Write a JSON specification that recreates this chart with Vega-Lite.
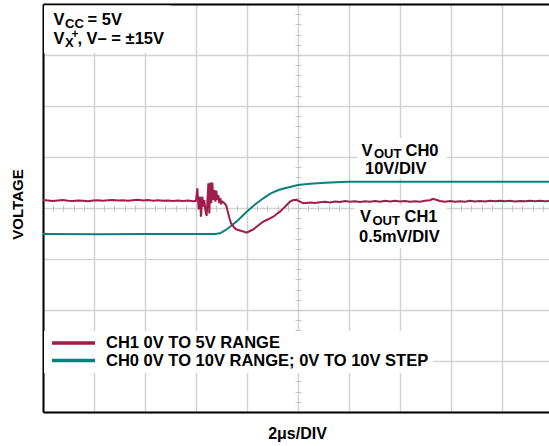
{
  "$schema": "https://vega.github.io/schema/vega-lite/v6.json",
  "width": 506,
  "height": 408,
  "autosize": {"type": "none"},
  "padding": {"left": 43, "top": 4, "right": 0, "bottom": 34},
  "background": "white",
  "config": {
    "view": {"stroke": null},
    "font": "Liberation Sans",
    "text": {"font": "Liberation Sans"}
  },
  "datasets": {
    "ch1": [
      {"t":0,"v":0.157},{"t":0.196,"v":0.147},{"t":0.392,"v":0.137},{"t":0.588,"v":0.147},{"t":0.784,"v":0.157},{"t":0.98,"v":0.141},{"t":1.176,"v":0.137},{"t":1.373,"v":0.147},{"t":1.569,"v":0.141},{"t":1.765,"v":0.133},{"t":1.961,"v":0.145},{"t":2.157,"v":0.153},{"t":2.353,"v":0.141},{"t":2.549,"v":0.151},{"t":2.745,"v":0.157},{"t":2.941,"v":0.145},{"t":3.137,"v":0.153},{"t":3.333,"v":0.143},{"t":3.529,"v":0.153},{"t":3.725,"v":0.161},{"t":3.922,"v":0.149},{"t":4.118,"v":0.155},{"t":4.314,"v":0.143},{"t":4.51,"v":0.151},{"t":4.706,"v":0.141},{"t":4.902,"v":0.149},{"t":5.098,"v":0.139},{"t":5.294,"v":0.147},{"t":5.49,"v":0.137},{"t":5.686,"v":0.145},{"t":5.882,"v":0.133},{"t":6.0,"v":0.141},
      {"t":6.052,"v":0.386},{"t":6.105,"v":-0.026},{"t":6.157,"v":0.222},{"t":6.196,"v":-0.17},{"t":6.248,"v":0.222},{"t":6.288,"v":0.026},{"t":6.327,"v":0.157},{"t":6.366,"v":-0.039},{"t":6.418,"v":-0.157},{"t":6.484,"v":0.484},{"t":6.523,"v":-0.105},{"t":6.562,"v":0.497},{"t":6.601,"v":0.092},{"t":6.641,"v":0.497},{"t":6.68,"v":0.157},{"t":6.719,"v":0.353},{"t":6.758,"v":0.124},{"t":6.797,"v":0.34},{"t":6.837,"v":0.157},{"t":6.876,"v":0.255},{"t":6.915,"v":0.092},{"t":6.954,"v":0.19},{"t":6.993,"v":0.092},{"t":7.046,"v":0.124},{"t":7.111,"v":0.092},{"t":7.176,"v":0.059},{"t":7.229,"v":-0.039},{"t":7.281,"v":-0.137},{"t":7.333,"v":-0.235},{"t":7.373,"v":-0.301},{"t":7.425,"v":-0.333},{"t":7.49,"v":-0.379},{"t":7.569,"v":-0.418},{"t":7.66,"v":-0.431},{"t":7.791,"v":-0.451},{"t":7.922,"v":-0.471},{"t":7.987,"v":-0.484},{"t":8.118,"v":-0.451},{"t":8.248,"v":-0.418},{"t":8.379,"v":-0.366},{"t":8.51,"v":-0.314},{"t":8.641,"v":-0.268},{"t":8.771,"v":-0.235},{"t":8.902,"v":-0.203},{"t":9.033,"v":-0.17},{"t":9.163,"v":-0.118},{"t":9.294,"v":-0.072},{"t":9.425,"v":-0.007},{"t":9.556,"v":0.059},{"t":9.686,"v":0.124},{"t":9.817,"v":0.157},{"t":9.948,"v":0.157},{"t":10.078,"v":0.124},{"t":10.209,"v":0.092},
      {"t":10.314,"v":0.098},{"t":10.471,"v":0.108},{"t":10.667,"v":0.098},{"t":10.863,"v":0.114},{"t":11.059,"v":0.122},{"t":11.255,"v":0.108},{"t":11.451,"v":0.127},{"t":11.647,"v":0.118},{"t":11.843,"v":0.137},{"t":12.039,"v":0.122},{"t":12.235,"v":0.133},{"t":12.431,"v":0.118},{"t":12.627,"v":0.131},{"t":12.824,"v":0.122},{"t":13.02,"v":0.137},{"t":13.216,"v":0.125},{"t":13.412,"v":0.141},{"t":13.608,"v":0.129},{"t":13.804,"v":0.141},{"t":14.0,"v":0.127},{"t":14.196,"v":0.137},{"t":14.392,"v":0.122},{"t":14.588,"v":0.133},{"t":14.784,"v":0.125},{"t":14.98,"v":0.141},{"t":15.176,"v":0.153},{"t":15.294,"v":0.18},{"t":15.412,"v":0.161},{"t":15.569,"v":0.137},{"t":15.765,"v":0.125},{"t":15.961,"v":0.137},{"t":16.157,"v":0.122},{"t":16.353,"v":0.133},{"t":16.549,"v":0.125},{"t":16.745,"v":0.141},{"t":16.941,"v":0.129},{"t":17.137,"v":0.139},{"t":17.333,"v":0.127},{"t":17.529,"v":0.141},{"t":17.725,"v":0.131},{"t":17.922,"v":0.143},{"t":18.118,"v":0.131},{"t":18.314,"v":0.141},{"t":18.51,"v":0.129},{"t":18.706,"v":0.139},{"t":18.902,"v":0.131},{"t":19.098,"v":0.143},{"t":19.294,"v":0.133},{"t":19.49,"v":0.141},{"t":19.686,"v":0.133},{"t":19.843,"v":0.137}
    ],
    "ch0": [
      {"t":0,"v":-0.51},{"t":2.235,"v":-0.514},{"t":4.196,"v":-0.51},{"t":6.157,"v":-0.51},{"t":6.745,"v":-0.51},{"t":6.941,"v":-0.496},{"t":7.137,"v":-0.441},{"t":7.333,"v":-0.367},{"t":7.647,"v":-0.241},{"t":7.988,"v":-0.073},{"t":8.314,"v":0.069},{"t":8.639,"v":0.19},{"t":8.902,"v":0.275},{"t":9.098,"v":0.324},{"t":9.294,"v":0.363},{"t":9.686,"v":0.412},{"t":10.0,"v":0.451},{"t":10.471,"v":0.476},{"t":11.059,"v":0.496},{"t":11.961,"v":0.514},{"t":14.0,"v":0.516},{"t":19.843,"v":0.516}
    ],
    "notes": [
      {"text":"V","t":0.412,"v":3.588},
      {"text":"= 5V","t":1.745,"v":3.588},
      {"text":"V","t":0.412,"v":3.206},
      {"text":", V– = ±15V","t":1.35,"v":3.206},
      {"text":"V","t":12.49,"v":1.025},
      {"text":"CH0","t":14.216,"v":1.025},
      {"text":"10V/DIV","t":12.627,"v":0.67},
      {"text":"V","t":12.431,"v":-0.28},
      {"text":"CH1","t":14.177,"v":-0.28},
      {"text":"0.5mV/DIV","t":12.392,"v":-0.667}
    ],
    "subs": [
      {"text":"CC","t":0.864,"v":3.53},
      {"text":"X","t":0.864,"v":3.157},
      {"text":"OUT","t":12.98,"v":0.971},
      {"text":"OUT","t":12.921,"v":-0.333}
    ],
    "sups": [
      {"text":"+","t":1.118,"v":3.333}
    ],
    "boxes": [
      {"t1":0.04,"t2":5.0,"v1":3.97,"v2":3.04},
      {"t1":12.314,"t2":15.843,"v1":1.373,"v2":0.588},
      {"t1":12.235,"t2":15.843,"v1":0.059,"v2":-0.784}
    ]
  },
  "resolve": {"axis": {"x": "independent", "y": "independent"}},
  "layer": [
    {
      "data": {"name": "boxes"},
      "mark": {"type": "rect", "fill": "white", "stroke": null},
      "encoding": {
        "x": {"field": "t1", "type": "quantitative",
          "scale": {"domain": [0, 19.843], "nice": false, "zero": false},
          "axis": {"orient": "bottom", "values": [0,2,4,6,8,10,12,14,16,18], "grid": true, "gridColor": "#d2d2d2", "gridWidth": 1.5,
            "labels": false, "ticks": false, "domain": true, "domainColor": "#000000", "domainWidth": 2,
            "title": "2μs/DIV", "titleFont": "Liberation Sans", "titleFontSize": 16, "titleFontWeight": "bold", "titleColor": "#000000",
            "titleX": 254, "titleY": 26, "titleBaseline": "alphabetic", "titleAlign": "center"}},
        "x2": {"field": "t2"},
        "y": {"field": "v1", "type": "quantitative",
          "scale": {"domain": [-4, 4], "nice": false, "zero": false},
          "axis": {"orient": "left", "values": [-4,-3,-2,-1,0,1,2,3,4], "grid": true, "gridColor": "#d2d2d2", "gridWidth": 1.5,
            "labels": false, "ticks": false, "domain": true, "domainColor": "#000000", "domainWidth": 2,
            "title": "VOLTAGE", "titleFont": "Liberation Sans", "titleFontSize": 15, "titleFontWeight": "bold", "titleColor": "#000000",
            "titleX": -26, "titleY": 200, "titleBaseline": "middle", "titleAlign": "center", "titleAngle": 270}},
        "y2": {"field": "v2"}
      }
    },
    {
      "data": {"name": "ch0"},
      "mark": {"type": "line", "strokeWidth": 2},
      "encoding": {
        "x": {"field": "t", "type": "quantitative",
          "scale": {"domain": [0, 19.843], "nice": false, "zero": false},
          "axis": {"orient": "top", "grid": false, "labels": false, "ticks": false, "domain": true, "domainColor": "#000000", "domainWidth": 2, "title": null}},
        "y": {"field": "v", "type": "quantitative", "scale": {"domain": [-4, 4], "nice": false, "zero": false}, "axis": null},
        "color": {"datum": "CH0 0V TO 10V RANGE; 0V TO 10V STEP",
          "scale": {"domain": ["CH1 0V TO 5V RANGE", "CH0 0V TO 10V RANGE; 0V TO 10V STEP"], "range": ["#9f1d4b", "#0b7f7b"]},
          "legend": {"orient": "none", "legendX": 1, "legendY": 327, "title": null, "fillColor": "white", "padding": 4,
            "symbolType": "stroke", "symbolSize": 1849, "symbolStrokeWidth": 3.5, "symbolOffset": 2, "clipHeight": 16, "rowPadding": 0.5,
            "labelFont": "Liberation Sans", "labelFontSize": 16.5, "labelFontWeight": "bold", "labelColor": "#000000", "labelLimit": 0, "labelOffset": 9}}
      }
    },
    {
      "data": {"name": "ch1"},
      "mark": {"type": "line", "strokeWidth": 2},
      "encoding": {
        "x": {"field": "t", "type": "quantitative", "scale": {"domain": [0, 19.843], "nice": false, "zero": false}, "axis": null},
        "y": {"field": "v", "type": "quantitative", "scale": {"domain": [-4, 4], "nice": false, "zero": false}, "axis": null},
        "color": {"datum": "CH1 0V TO 5V RANGE"}
      }
    },
    {
      "data": {"name": "notes"},
      "mark": {"type": "text", "fontSize": 16.5, "fontWeight": "bold", "align": "left", "baseline": "alphabetic", "color": "#000000"},
      "encoding": {
        "x": {"field": "t", "type": "quantitative",
          "scale": {"domain": [0, 19.843], "nice": false, "zero": false},
          "axis": {"orient": "bottom", "offset": -207, "values": [0.4,0.8,1.2,1.6,2,2.4,2.8,3.2,3.6,4,4.4,4.8,5.2,5.6,6,6.4,6.8,7.2,7.6,8,8.4,8.8,9.2,9.6,10,10.4,10.8,11.2,11.6,12,12.4,12.8,13.2,13.6,14,14.4,14.8,15.2,15.6,16,16.4,16.8,17.2,17.6,18,18.4,18.8,19.2,19.6],
            "grid": false, "labels": false, "domain": false, "ticks": true, "tickSize": 6, "tickColor": "#c4c4c4", "tickWidth": 1, "title": null}},
        "y": {"field": "v", "type": "quantitative",
          "scale": {"domain": [-4, 4], "nice": false, "zero": false},
          "axis": {"orient": "left", "offset": -258, "values": [-3.8,-3.6,-3.4,-3.2,-3,-2.8,-2.6,-2.4,-2.2,-2,-1.8,-1.6,-1.4,-1.2,-1,-0.8,-0.6,-0.4,-0.2,0,0.2,0.4,0.6,0.8,1,1.2,1.4,1.6,1.8,2,2.2,2.4,2.6,2.8,3,3.2,3.4,3.6,3.8],
            "grid": false, "labels": false, "domain": false, "ticks": true, "tickSize": 6, "tickColor": "#c4c4c4", "tickWidth": 1, "title": null}},
        "text": {"field": "text", "type": "nominal"}
      }
    },
    {
      "data": {"name": "subs"},
      "mark": {"type": "text", "fontSize": 13, "fontWeight": "bold", "align": "left", "baseline": "alphabetic", "color": "#000000"},
      "encoding": {
        "x": {"field": "t", "type": "quantitative", "scale": {"domain": [0, 19.843], "nice": false, "zero": false}, "axis": null},
        "y": {"field": "v", "type": "quantitative", "scale": {"domain": [-4, 4], "nice": false, "zero": false}, "axis": null},
        "text": {"field": "text", "type": "nominal"}
      }
    },
    {
      "data": {"name": "sups"},
      "mark": {"type": "text", "fontSize": 12, "fontWeight": "bold", "align": "left", "baseline": "alphabetic", "color": "#000000"},
      "encoding": {
        "x": {"field": "t", "type": "quantitative", "scale": {"domain": [0, 19.843], "nice": false, "zero": false}, "axis": null},
        "y": {"field": "v", "type": "quantitative", "scale": {"domain": [-4, 4], "nice": false, "zero": false}, "axis": null},
        "text": {"field": "text", "type": "nominal"}
      }
    }
  ]
}
